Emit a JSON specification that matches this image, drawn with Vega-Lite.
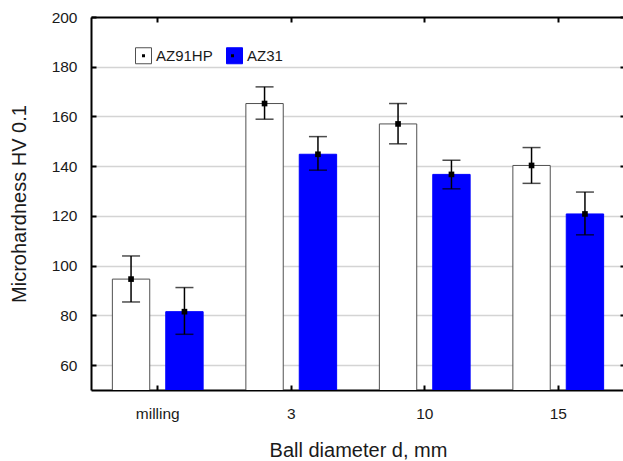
{
  "$schema": "https://vega.github.io/schema/vega-lite/v6.json",
  "autosize": "none",
  "width": 534,
  "height": 373,
  "padding": {"left": 91, "top": 17, "right": 0, "bottom": 71},
  "background": "white",
  "config": {
    "font": "Liberation Sans",
    "view": {"stroke": null},
    "axis": {
      "domainColor": "black",
      "domainWidth": 2,
      "tickColor": "black",
      "tickWidth": 2,
      "labelColor": "#1a1a1a",
      "titleColor": "#1a1a1a",
      "labelFont": "Liberation Sans",
      "titleFont": "Liberation Sans",
      "titleFontWeight": "normal",
      "labelFontSize": 15.5,
      "titleFontSize": 20
    },
    "legend": {"labelFont": "Liberation Sans", "labelFontSize": 15, "labelColor": "#1a1a1a"}
  },
  "data": {
    "values": [
      {"d": "milling", "alloy": "AZ91HP", "hv": 94.6, "lo": 85.4, "hi": 103.9},
      {"d": "milling", "alloy": "AZ31", "hv": 81.5, "lo": 72.4, "hi": 91.2},
      {"d": "3", "alloy": "AZ91HP", "hv": 165.2, "lo": 158.9, "hi": 171.9},
      {"d": "3", "alloy": "AZ31", "hv": 144.8, "lo": 138.4, "hi": 151.9},
      {"d": "10", "alloy": "AZ91HP", "hv": 157.0, "lo": 149.0, "hi": 165.2},
      {"d": "10", "alloy": "AZ31", "hv": 136.7, "lo": 130.9, "hi": 142.4},
      {"d": "15", "alloy": "AZ91HP", "hv": 140.3, "lo": 133.1, "hi": 147.5},
      {"d": "15", "alloy": "AZ31", "hv": 120.8, "lo": 112.4, "hi": 129.6}
    ]
  },
  "resolve": {"axis": {"x": "independent", "y": "independent"}},
  "layer": [
    {
      "mark": {"type": "bar", "clip": true, "strokeWidth": 1},
      "encoding": {
        "x": {
          "field": "d", "type": "nominal", "sort": ["milling", "3", "10", "15"],
          "scale": {"paddingInner": 0, "paddingOuter": 0},
          "axis": {
            "orient": "bottom", "title": "Ball diameter d, mm", "labelAngle": 0,
            "tickSize": -5, "labelPadding": 21, "titlePadding": 19, "grid": false
          }
        },
        "xOffset": {
          "field": "alloy", "type": "nominal", "sort": ["AZ91HP", "AZ31"],
          "scale": {"paddingInner": 0.3, "paddingOuter": 0.4}
        },
        "y": {
          "field": "hv", "type": "quantitative",
          "scale": {"domain": [50, 200], "nice": false, "zero": false},
          "axis": {
            "orient": "left", "title": "Microhardness HV 0.1",
            "values": [60, 80, 100, 120, 140, 160, 180, 200],
            "tickSize": -5, "labelPadding": 19, "titlePadding": 22,
            "grid": true, "gridWidth": 1.5,
            "gridColor": {"condition": {"test": "datum.value >= 200", "value": "transparent"}, "value": "#d4d4d4"}
          }
        },
        "fill": {
          "field": "alloy", "type": "nominal",
          "scale": {"domain": ["AZ91HP", "AZ31"], "range": ["white", "#0000ff"]},
          "legend": {
            "orient": "none", "legendX": 44, "legendY": 30, "direction": "horizontal",
            "title": null, "symbolType": "square", "symbolSize": 256,
            "symbolStrokeWidth": 1, "labelOffset": 4, "columnPadding": 11, "padding": 0
          }
        },
        "stroke": {
          "field": "alloy", "type": "nominal",
          "scale": {"domain": ["AZ91HP", "AZ31"], "range": ["#505050", "#0000ff"]},
          "legend": {
            "orient": "none", "legendX": 44, "legendY": 30, "direction": "horizontal",
            "title": null, "symbolType": "square", "symbolSize": 256,
            "symbolStrokeWidth": 1, "labelOffset": 4, "columnPadding": 11, "padding": 0
          }
        }
      }
    },
    {
      "mark": {"type": "rule", "color": "black", "strokeWidth": 1.5},
      "encoding": {
        "x": {
          "field": "d", "type": "nominal", "sort": ["milling", "3", "10", "15"],
          "axis": {"orient": "top", "labels": false, "title": null, "tickSize": -5, "grid": false}
        },
        "xOffset": {"field": "alloy", "type": "nominal", "sort": ["AZ91HP", "AZ31"]},
        "y": {
          "field": "lo", "type": "quantitative",
          "scale": {"domain": [50, 200], "nice": false, "zero": false},
          "axis": {
            "orient": "right", "labels": false, "title": null, "tickSize": -5, "grid": false,
            "values": [60, 80, 100, 120, 140, 160, 180, 200]
          }
        },
        "y2": {"field": "hi"}
      }
    },
    {
      "mark": {"type": "tick", "color": "black", "size": 18, "thickness": 1.5},
      "encoding": {
        "x": {"field": "d", "type": "nominal", "sort": ["milling", "3", "10", "15"], "axis": null},
        "xOffset": {"field": "alloy", "type": "nominal", "sort": ["AZ91HP", "AZ31"]},
        "y": {"field": "lo", "type": "quantitative", "scale": {"domain": [50, 200], "nice": false, "zero": false}, "axis": null}
      }
    },
    {
      "mark": {"type": "tick", "color": "black", "size": 18, "thickness": 1.5},
      "encoding": {
        "x": {"field": "d", "type": "nominal", "sort": ["milling", "3", "10", "15"], "axis": null},
        "xOffset": {"field": "alloy", "type": "nominal", "sort": ["AZ91HP", "AZ31"]},
        "y": {"field": "hi", "type": "quantitative", "scale": {"domain": [50, 200], "nice": false, "zero": false}, "axis": null}
      }
    },
    {
      "mark": {"type": "point", "filled": true, "color": "black", "size": 32, "opacity": 1},
      "encoding": {
        "x": {"field": "d", "type": "nominal", "sort": ["milling", "3", "10", "15"], "axis": null},
        "xOffset": {"field": "alloy", "type": "nominal", "sort": ["AZ91HP", "AZ31"]},
        "y": {"field": "hv", "type": "quantitative", "scale": {"domain": [50, 200], "nice": false, "zero": false}, "axis": null},
        "shape": {
          "field": "alloy", "type": "nominal", "sort": ["AZ91HP", "AZ31"],
          "scale": {"range": ["square", "square"]},
          "legend": {
            "orient": "none", "legendX": 45, "legendY": 31, "direction": "horizontal",
            "title": null, "symbolSize": 9, "symbolFillColor": "black", "symbolStrokeWidth": 0,
            "labelOffset": 6, "columnPadding": 11, "padding": 0, "labelOpacity": 0
          }
        }
      }
    }
  ]
}
